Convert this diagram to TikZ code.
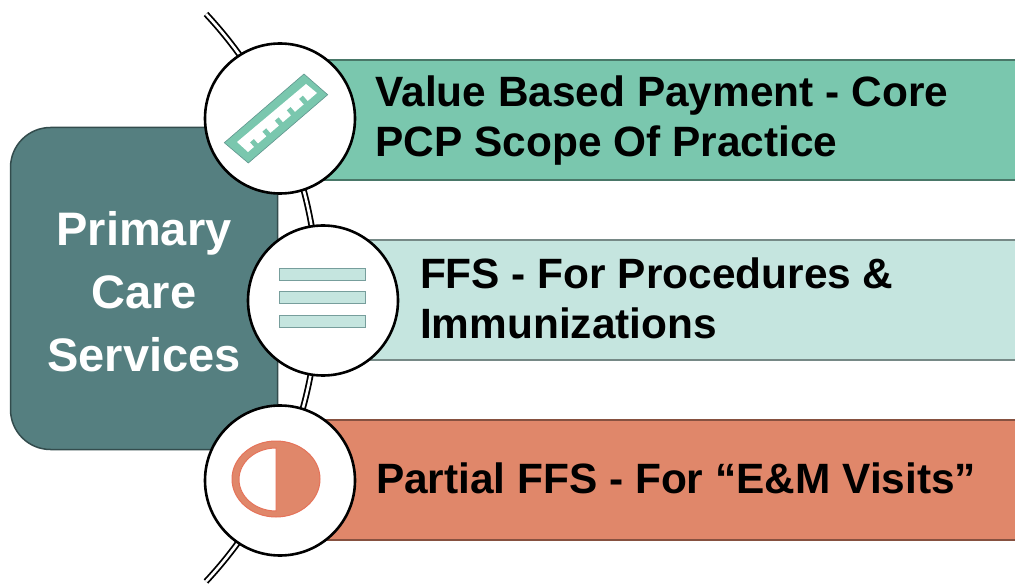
\documentclass[tikz,border=0pt]{standalone}
\usepackage{fontspec}
\setmainfont{Liberation Sans}
\definecolor{panelteal}{HTML}{557F80}
\definecolor{bargreen}{HTML}{7AC7AE}
\definecolor{barpale}{HTML}{C5E5DF}
\definecolor{barorange}{HTML}{E0876A}
\begin{document}
\begin{tikzpicture}[
  x=1pt, y=-1pt,
  bar/.style={rectangle, draw=#1!60!black, fill=#1, line width=1.5pt, minimum height=120pt, anchor=west},
  disc/.style={circle, draw, fill=white, line width=2.6pt, minimum size=150pt, inner sep=0pt},
  label/.style={font=\fontsize{42.4}{50}\selectfont\bfseries, align=left, anchor=west, text=black},
  title/.style={font=\fontsize{47}{63}\selectfont\bfseries, align=center, text=white},
  hoop/.style={draw=black, line width=1.8pt, double=white, double distance=2.6pt}
]
\useasboundingbox (0,0) rectangle (1015,585);
\clip (0,0) rectangle (1015,585);

\coordinate (hooptop) at (206,14);
\draw[hoop] (hooptop) arc[start angle=-43, end angle=43, radius=416];

\node[rectangle, rounded corners=40pt, draw=panelteal!60!black, fill=panelteal, line width=1.5pt, minimum width=267pt, minimum height=322pt] (panel) at (144,288.5) {};
\node[title] (paneltext) at (144,292) {Primary\\Care\\Services};

\node[bar=bargreen, minimum width=720pt] (barone) at (310,120) {};
\node[bar=barpale, minimum width=700pt] (bartwo) at (340,300) {};
\node[bar=barorange, minimum width=720pt] (barthree) at (310,480) {};

\node[label] (textone) at (372,121) {Value Based Payment - Core\\PCP Scope Of Practice};
\node[label] (texttwo) at (416.5,298) {FFS - For Procedures \&\\Immunizations};
\node[label] (textthree) at (372.5,478) {Partial FFS - For “E\&M Visits”};

\node[disc] (discone) at (280,118.5) {};
\node[disc] (disctwo) at (323,300.5) {};
\node[disc] (discthree) at (280,480.5) {};

% ruler
\fill[bargreen, draw=panelteal!70!bargreen, line width=.6pt] (304,74) -- (327.7,94.7) -- (248.3,163) -- (224.3,142.7) -- cycle;
\fill[white] (306,84) -- (317,93) -- (248,152) -- (237,142) -- cycle;
\foreach \x/\y in {301/97.3,288.7/108.7,276.7/119,264.3/130,252/140.7}
  \draw[bargreen, line width=5pt] (\x,\y) -- ++(7,8);

% bars icon
\foreach \y in {275,298,322}
  \draw[fill=barpale, draw=panelteal!70!barpale, line width=1pt] (279,\y-6) rectangle (365,\y+6);

% half disc
\draw[fill=barorange, draw=barorange!85!red, line width=1pt] (276,479) ellipse[x radius=44, y radius=38];
\fill[white, draw=barorange!85!red, line width=1pt] (276,448) arc[start angle=-90, end angle=-270, x radius=37, y radius=31.5] -- cycle;
\end{tikzpicture}
\end{document}
